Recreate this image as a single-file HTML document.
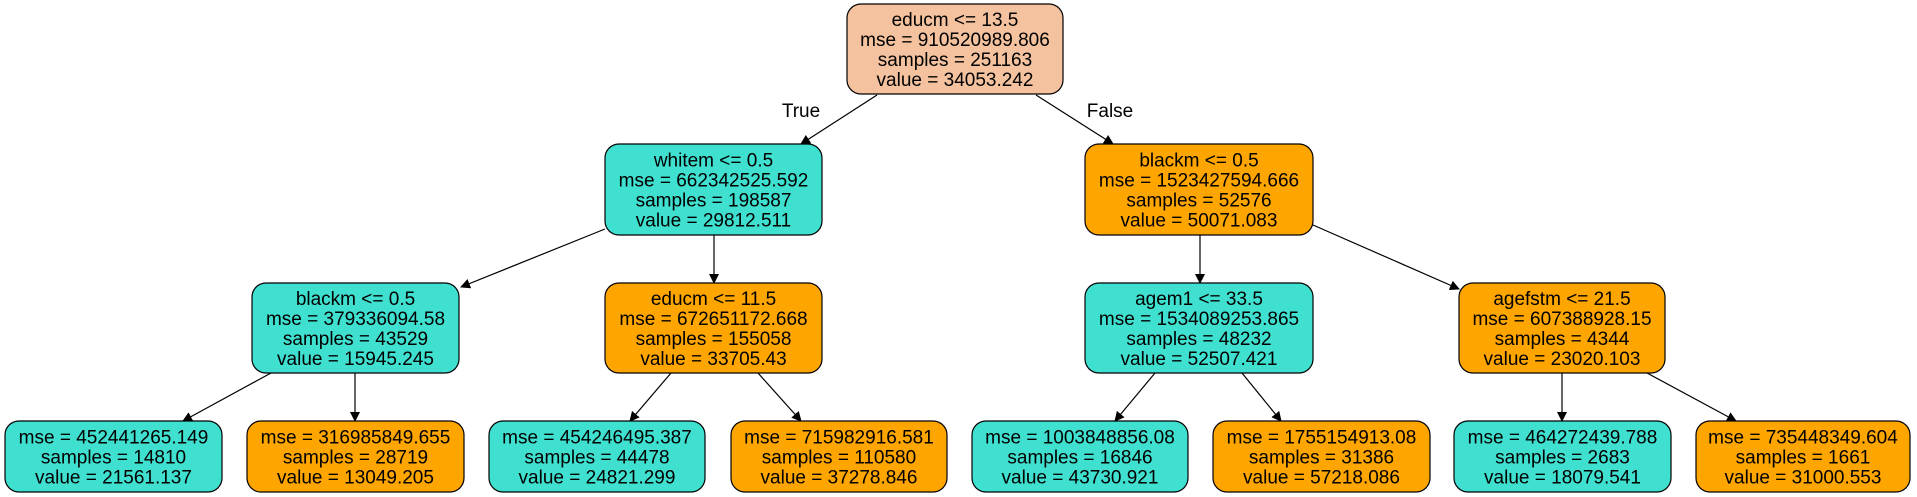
<!DOCTYPE html>
<html><head><meta charset="utf-8"><style>
html,body{margin:0;padding:0;background:#fff;}
svg{display:block;}
text{font-family:"Liberation Sans",Arial,sans-serif;font-size:19px;fill:#000;}
</style></head><body>
<svg id="tree" width="1917" height="497" viewBox="0 0 1917 497" xmlns="http://www.w3.org/2000/svg">
<defs><marker id="ah" markerWidth="10" markerHeight="10" refX="9" refY="5" orient="auto" markerUnits="userSpaceOnUse"><path d="M0,0 L10,5 L0,10 z" fill="#000"/></marker></defs>
<g id="edges"></g><g id="nodes"></g>
<text x="801" y="117" text-anchor="middle">True</text>
<text x="1110" y="117" text-anchor="middle">False</text>
</svg>
<script>
const nodeLabels=[
["educm <= 13.5","mse = 910520989.806","samples = 251163","value = 34053.242"],
["whitem <= 0.5","mse = 662342525.592","samples = 198587","value = 29812.511"],
["blackm <= 0.5","mse = 1523427594.666","samples = 52576","value = 50071.083"],
["blackm <= 0.5","mse = 379336094.58","samples = 43529","value = 15945.245"],
["educm <= 11.5","mse = 672651172.668","samples = 155058","value = 33705.43"],
["agem1 <= 33.5","mse = 1534089253.865","samples = 48232","value = 52507.421"],
["agefstm <= 21.5","mse = 607388928.15","samples = 4344","value = 23020.103"],
["mse = 452441265.149","samples = 14810","value = 21561.137"],
["mse = 316985849.655","samples = 28719","value = 13049.205"],
["mse = 454246495.387","samples = 44478","value = 24821.299"],
["mse = 715982916.581","samples = 110580","value = 37278.846"],
["mse = 1003848856.08","samples = 16846","value = 43730.921"],
["mse = 1755154913.08","samples = 31386","value = 57218.086"],
["mse = 464272439.788","samples = 2683","value = 18079.541"],
["mse = 735448349.604","samples = 1661","value = 31000.553"]];
const nodeColors=["#F4C29E","#40E0D0","#FFA500","#40E0D0","#FFA500","#40E0D0","#FFA500","#40E0D0","#FFA500","#40E0D0","#FFA500","#40E0D0","#FFA500","#40E0D0","#FFA500"];
const boxes=[[847,4,1063,94],[605,144,822,235],[1085,144,1313,235],[252,283,459,373],[605,283,822,373],[1085,283,1313,373],[1459,283,1665,373],
[5,421,222,492],[247,421,464,492],[489,421,705,492],[731,421,947,492],[972,421,1188,492],[1213,421,1430,492],[1454,421,1671,492],[1696,421,1910,492]];
const edges=[[877,95,801,144],[1036,95,1113,144],[605,229,461,287],[714,235,714,283],[1200,235,1200,283],[1313,225,1459,289],
[271,373,183,421],[355,373,355,421],[671,373,630,421],[758,373,801,421],[1155,373,1115,421],[1242,373,1281,421],[1562,373,1562,421],[1647,373,1736,421]];
const NS="http://www.w3.org/2000/svg";
const eg=document.getElementById('edges'),ng=document.getElementById('nodes');
edges.forEach((e,i)=>{const l=document.createElementNS(NS,'line');
l.setAttribute('x1',e[0]);l.setAttribute('y1',e[1]);l.setAttribute('x2',e[2]);l.setAttribute('y2',e[3]);
l.setAttribute('stroke','#000');l.setAttribute('stroke-width','1.2');l.setAttribute('marker-end','url(#ah)');


eg.appendChild(l);});
boxes.forEach((b,i)=>{const g=document.createElementNS(NS,'g');


const r=document.createElementNS(NS,'rect');
r.setAttribute('x',b[0]);r.setAttribute('y',b[1]);r.setAttribute('width',b[2]-b[0]);r.setAttribute('height',b[3]-b[1]);
r.setAttribute('rx',14);r.setAttribute('fill',nodeColors[i]);r.setAttribute('stroke','#000');r.setAttribute('stroke-width','1.2');
g.appendChild(r);
const lines=nodeLabels[i],cx=(b[0]+b[2])/2,cy=(b[1]+b[3])/2;
lines.forEach((t,k)=>{const tx=document.createElementNS(NS,'text');
tx.setAttribute('x',cx);tx.setAttribute('y',cy+(k-(lines.length-1)/2)*20+7);tx.setAttribute('text-anchor','middle');
tx.textContent=t;


g.appendChild(tx);});
ng.appendChild(g);});
</script>
</body></html>
